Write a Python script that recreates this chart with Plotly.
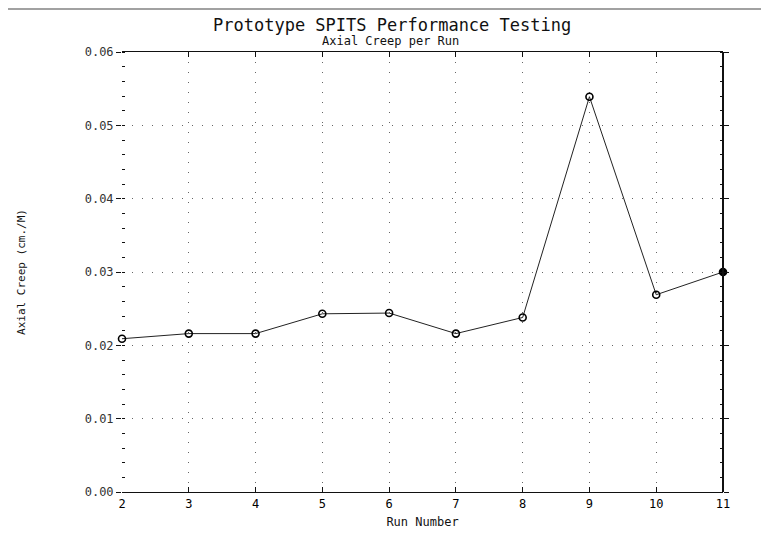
import plotly.graph_objects as go

run_numbers = [2, 3, 4, 5, 6, 7, 8, 9, 10, 11]
axial_creep = [0.0209, 0.0216, 0.0216, 0.0243, 0.0244, 0.0216, 0.0238, 0.0539, 0.0269, 0.0300]
x_ticks = [2, 3, 4, 5, 6, 7, 8, 9, 10, 11]
y_ticks = [0.00, 0.01, 0.02, 0.03, 0.04, 0.05, 0.06]

FONT = "DejaVu Sans Mono"
OFF = 8  # default page body margin
W, H = 769, 533
ML, MR = 122 - OFF, W - (723 - OFF)
MT, MB = 52 - OFF, H - (492 - OFF)
PW, PH = W - ML - MR, H - MT - MB


def px(x):
    return (x - OFF - ML) / PW


def py(y):
    return (H - (y - OFF) - MB) / PH


symbols = ["circle-open"] * (len(run_numbers) - 1) + ["circle"]

fig = go.Figure()
fig.add_trace(go.Scatter(
    x=run_numbers, y=axial_creep, mode="lines+markers",
    line=dict(color="#222", width=1),
    marker=dict(symbol=symbols, size=7, color="#000",
                line=dict(color="#000", width=1.6)),
    cliponaxis=False, showlegend=False,
))

fig.update_layout(
    width=W, height=H,
    paper_bgcolor="white", plot_bgcolor="white",
    margin=dict(l=ML, r=MR, t=MT, b=MB),
    font=dict(family=FONT, color="#111", size=12),
    annotations=[
        dict(text="Prototype SPITS Performance Testing", x=px(392), y=py(25),
             xref="paper", yref="paper", showarrow=False,
             xanchor="center", yanchor="middle",
             font=dict(size=17, family=FONT, color="#111")),
        dict(text="Axial Creep per Run", x=px(390), y=py(41),
             xref="paper", yref="paper", showarrow=False,
             xanchor="center", yanchor="middle",
             font=dict(size=12, family=FONT, color="#111")),
    ],
    shapes=[
        dict(type="line", xref="paper", yref="paper", x0=1, x1=1, y0=0, y1=1,
             line=dict(color="#111", width=2)),
        dict(type="line", xref="paper", yref="paper", x0=px(OFF), x1=px(W + OFF),
             y0=py(OFF + 1), y1=py(OFF + 1),
             line=dict(color="#444", width=1.2)),
    ],
)

fig.update_xaxes(
    range=[2, 11], tickvals=x_ticks, ticktext=[str(v) for v in x_ticks],
    showline=True, linecolor="#111", linewidth=1.2, mirror="allticks",
    ticks="inside", ticklen=5, tickcolor="#111", tickwidth=1,
    showgrid=True, gridcolor="#666", griddash="1px,9px", gridwidth=1,
    zeroline=False, automargin=False,
    tickfont=dict(size=12, family=FONT, color="#000"),
    title=dict(text="Run Number", font=dict(size=12, family=FONT, color="#111"),
               standoff=8),
)
fig.update_yaxes(
    range=[0, 0.06], tickvals=y_ticks, ticktext=[f"{v:.2f}" for v in y_ticks],
    showline=False, mirror="allticks",
    ticks="outside", ticklen=5, tickcolor="#111", tickwidth=1.2,
    minor=dict(dtick=0.002, ticks="inside", ticklen=3, tickcolor="#111", showgrid=False),
    showgrid=True, gridcolor="#666", griddash="1px,9px", gridwidth=1,
    zeroline=False, automargin=False,
    tickfont=dict(size=12, family=FONT, color="#333"),
    title=dict(text="Axial Creep (cm./M)", font=dict(size=11, family=FONT, color="#111"),
               standoff=56),
)

fig.write_html("out.html")
